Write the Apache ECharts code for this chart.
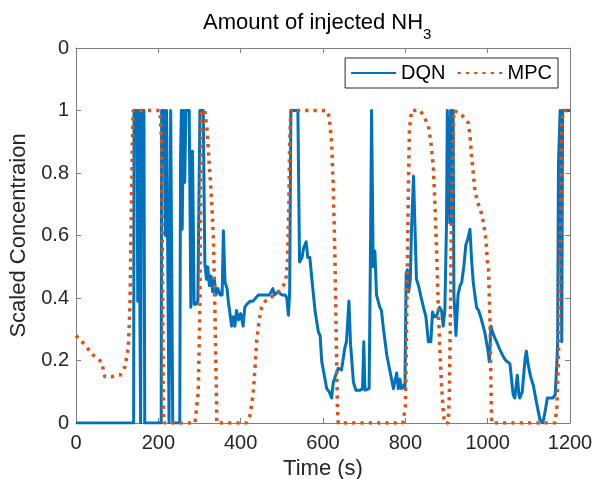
<!DOCTYPE html>
<html>
<head>
<meta charset="utf-8">
<script src="https://cdn.jsdelivr.net/npm/echarts@6/dist/echarts.min.js"></script>
<style>
  html, body { margin: 0; padding: 0; background: #fff; }
  #chart { width: 595px; height: 479px; }
</style>
</head>
<body>
<div id="chart"></div>
<script>
// DQN trace (time in s, scaled value)
var dqnT = [0, 140, 141, 148, 150, 152, 155, 157, 159, 165, 167, 207, 208, 214, 217, 220, 224, 226, 229, 230, 233, 235, 252,
  254, 256, 258, 261, 264, 267, 275, 279, 283, 287, 292, 296, 299, 301, 309, 313, 317, 320, 324, 328, 332, 336, 340,
  345, 350, 355, 358, 362, 367, 370, 374, 378, 382, 386, 390, 395, 400, 406, 410, 415, 423, 430, 443, 455, 470, 478,
  482, 490, 500, 508, 512, 516, 519, 522, 539, 543, 549, 553, 559, 563, 568, 573, 581, 589, 593, 597, 605, 609, 615,
  621, 625, 630, 637, 645, 653, 657, 663, 667, 674, 680, 690, 696, 699, 702, 712, 715, 718, 722, 726, 730, 738, 742,
  746, 755, 763, 771, 775, 779, 783, 787, 791, 795, 799, 802, 805, 808, 812, 815, 820, 824, 827, 832, 837, 844, 850,
  856, 862, 866, 870, 875, 883, 888, 892, 896, 900, 902, 906, 908, 910, 914, 916, 918, 923, 928, 933, 937, 942, 947,
  952, 957, 961, 965, 969, 973, 978, 983, 989, 993, 997, 1001, 1004, 1008, 1012, 1018, 1022, 1028, 1036, 1044, 1054,
  1058, 1062, 1066, 1072, 1076, 1078, 1084, 1091, 1094, 1098, 1104, 1111, 1118, 1127, 1134, 1140, 1145, 1152, 1158,
  1164, 1168, 1170, 1172, 1176, 1179, 1180, 1182, 1200];
var dqnY = [0, 0, 1, 1, 0.39, 1, 1, 0, 1, 1, 0, 0, 1, 1, 0.6, 1, 1, 0, 0, 1, 1, 0, 0,
  0.85, 1, 0.62, 1, 0.77, 1, 1, 0.37, 0.87, 0.38, 0.38, 0.39, 0.39, 1, 1, 0.51, 0.46, 0.5, 0.44, 0.47, 0.42, 0.46, 0.41,
  0.43, 0.41, 0.41, 0.615, 0.45, 0.43, 0.39, 0.35, 0.31, 0.34, 0.31, 0.36, 0.33, 0.35, 0.31, 0.37, 0.38, 0.39, 0.39, 0.41, 0.41, 0.41, 0.43,
  0.41, 0.42, 0.41, 0.41, 0.4, 0.345, 0.42, 1, 1, 0.515, 0.53, 0.56, 0.58, 0.53, 0.53, 0.46, 0.355, 0.29, 0.28, 0.196, 0.14, 0.11, 0.1,
  0.08, 0.13, 0.15, 0.175, 0.17, 0.24, 0.26, 0.39, 0.25, 0.13, 0.105, 0.105, 0.11, 0.26, 0.105, 0.11, 0.5, 1, 0.5, 0.55, 0.41, 0.37, 0.36,
  0.31, 0.217, 0.164, 0.11, 0.11, 0.16, 0.11, 0.14, 0.11, 0.12, 0.11, 0.48, 0.49, 0.42, 0.46, 0.62, 0.79, 0.6, 0.46, 0.44, 0.41, 0.37, 0.34,
  0.26, 0.26, 0.355, 0.34, 0.34, 0.37, 0.36, 0.31, 0.36, 0.64, 1, 1, 0.64, 1, 0.64, 1, 0.41, 0.28, 0.41, 0.44, 0.45, 0.5, 0.57,
  0.59, 0.62, 0.52, 0.45, 0.41, 0.37, 0.36, 0.34, 0.31, 0.29, 0.26, 0.23, 0.196, 0.31, 0.29, 0.27, 0.26, 0.24, 0.217, 0.2, 0.19,
  0.14, 0.09, 0.08, 0.153, 0.09, 0.08, 0.1, 0.207, 0.23, 0.19, 0.15, 0.12, 0.07, 0.01, 0, 0.04, 0.08, 0.08, 0.08,
  0.09, 0.19, 0.26, 0.83, 1, 1, 0.26, 1, 1];

// MPC trace
var mpcT = [0, 18, 42, 62, 70, 87, 107, 119, 127, 131, 134, 137, 139, 204, 208, 210, 212, 213, 289, 297, 301, 303, 305,
  313, 319, 325, 330, 334, 338, 341, 342, 414, 422, 428, 431, 435, 439, 445, 451, 460, 471, 484, 496, 504, 510, 514,
  517, 519, 522, 609, 615, 621, 625, 629, 633, 635, 637, 794, 800, 802, 805, 808, 810, 815, 836, 846, 856, 862, 868,
  872, 876, 880, 884, 888, 892, 895, 904, 907, 910, 914, 918, 933, 945, 953, 957, 961, 965, 969, 975, 980, 985, 990,
  996, 999, 1002, 1006, 1009, 1010, 1164, 1168, 1172, 1176, 1180, 1184, 1200];
var mpcY = [0.28, 0.255, 0.217, 0.196, 0.148, 0.148, 0.153, 0.18, 0.24, 0.37, 0.63, 0.9, 1, 1, 0.9, 0.5, 0.05, 0, 0, 0.1, 0.37, 0.8, 1,
  1, 0.93, 0.8, 0.7, 0.585, 0.32, 0.1, 0, 0, 0.02, 0.07, 0.105, 0.18, 0.265, 0.33, 0.37, 0.39, 0.4, 0.41, 0.425, 0.44, 0.46, 0.52,
  0.7, 0.9, 1, 1, 0.98, 0.9, 0.75, 0.53, 0.21, 0.05, 0, 0, 0.05, 0.196, 0.515, 0.8, 0.94, 1, 1, 0.98, 0.95, 0.9, 0.82,
  0.7, 0.55, 0.37, 0.23, 0.12, 0.04, 0, 0, 0.09, 0.4, 0.83, 1, 0.99, 0.975, 0.96, 0.92, 0.85, 0.8, 0.745, 0.71, 0.69, 0.67, 0.64,
  0.585, 0.52, 0.5, 0.3, 0.03, 0, 0, 0.05, 0.21, 0.53, 0.96, 1, 1];

var xTicks = [0, 200, 400, 600, 800, 1000, 1200];

function zip(t, y) {
  return t.map(function (v, i) { return [v, y[i]]; });
}

var axisGray = '#7f7f7f';
var font = 'Liberation Sans, Arial, sans-serif';

var chart = echarts.init(document.getElementById('chart'), null, { renderer: 'canvas' });
var option = {
  animation: false,
  backgroundColor: '#fff',
  textStyle: { fontFamily: font },
  title: {
    text: '{a|Amount of injected NH}{b|3}',
    left: 198,
    top: 7,
    textStyle: {
      fontWeight: 'normal',
      rich: {
        a: { fontSize: 22, fontWeight: 'normal', color: '#000', fontFamily: font, lineHeight: 26, verticalAlign: 'top' },
        b: { fontSize: 15, fontWeight: 'normal', color: '#000', fontFamily: font, lineHeight: 15, padding: [20, 0, 0, 0] }
      }
    }
  },
  legend: {
    right: 37,
    top: 58,
    orient: 'horizontal',
    itemWidth: 45,
    itemHeight: 14,
    itemGap: 11,
    padding: [5, 6, 5, 5],
    borderColor: '#262626',
    borderWidth: 1,
    backgroundColor: '#fff',
    itemStyle: { opacity: 0 },
    textStyle: { fontSize: 20, color: '#000', fontFamily: font, padding: [0, 0, 0, 0] },
    data: ['DQN', 'MPC']
  },
  grid: { left: 76, right: 25, top: 48, bottom: 56, containLabel: false, outerBoundsMode: 'none' },
  xAxis: [{
    type: 'value',
    min: 0,
    max: 1200,
    interval: 200,
    name: 'Time (s)',
    nameLocation: 'middle',
    nameGap: 34,
    nameTextStyle: { fontSize: 22, color: '#262626', fontFamily: font },
    axisLine: { show: true, lineStyle: { color: axisGray, width: 1 } },
    axisTick: { show: true, inside: true, length: 5, lineStyle: { color: axisGray } },
    axisLabel: {
      margin: 10, fontSize: 20, color: '#262626', fontFamily: font,
      formatter: function (v) { return xTicks.indexOf(v) >= 0 ? String(v) : ''; }
    },
    splitLine: { show: false }
  }, {
    type: 'value',
    position: 'top',
    min: 0,
    max: 1200,
    interval: 200,
    axisLine: { show: true, onZero: false, lineStyle: { color: axisGray, width: 1 } },
    axisTick: { show: true, inside: true, length: 5, lineStyle: { color: axisGray } },
    axisLabel: { show: false },
    splitLine: { show: false }
  }],
  yAxis: [{
    type: 'value',
    min: 0,
    max: 1.2,
    interval: 0.2,
    name: 'Scaled Concentraion',
    nameLocation: 'middle',
    nameGap: 40,
    nameTextStyle: { fontSize: 22, color: '#262626', fontFamily: font },
    axisLine: { show: true, lineStyle: { color: axisGray, width: 1 } },
    axisTick: { show: true, inside: true, length: 5, lineStyle: { color: axisGray } },
    axisLabel: {
      margin: 7, fontSize: 20, color: '#262626', fontFamily: font,
      formatter: function (v) {
        if (Math.abs(v - 1.2) < 1e-6) return '0';
        return String(Math.round(v * 10) / 10);
      }
    },
    splitLine: { show: false }
  }, {
    type: 'value',
    position: 'right',
    min: 0,
    max: 1.2,
    interval: 0.2,
    axisLine: { show: true, onZero: false, lineStyle: { color: axisGray, width: 1 } },
    axisTick: { show: true, inside: true, length: 5, lineStyle: { color: axisGray } },
    axisLabel: { show: false },
    splitLine: { show: false }
  }],
  series: [{
    name: 'DQN',
    type: 'line',
    symbol: 'none',
    data: zip(dqnT, dqnY),
    lineStyle: { color: '#0072BD', width: 3, join: 'round' },
    itemStyle: { color: '#0072BD' }
  }, {
    name: 'MPC',
    type: 'line',
    symbol: 'none',
    data: zip(mpcT, mpcY),
    lineStyle: { color: '#D95319', width: 3.5, type: [3.3, 5], cap: 'butt' },
    itemStyle: { color: '#D95319' }
  }]
};
chart.setOption(option);
</script>
</body>
</html>
